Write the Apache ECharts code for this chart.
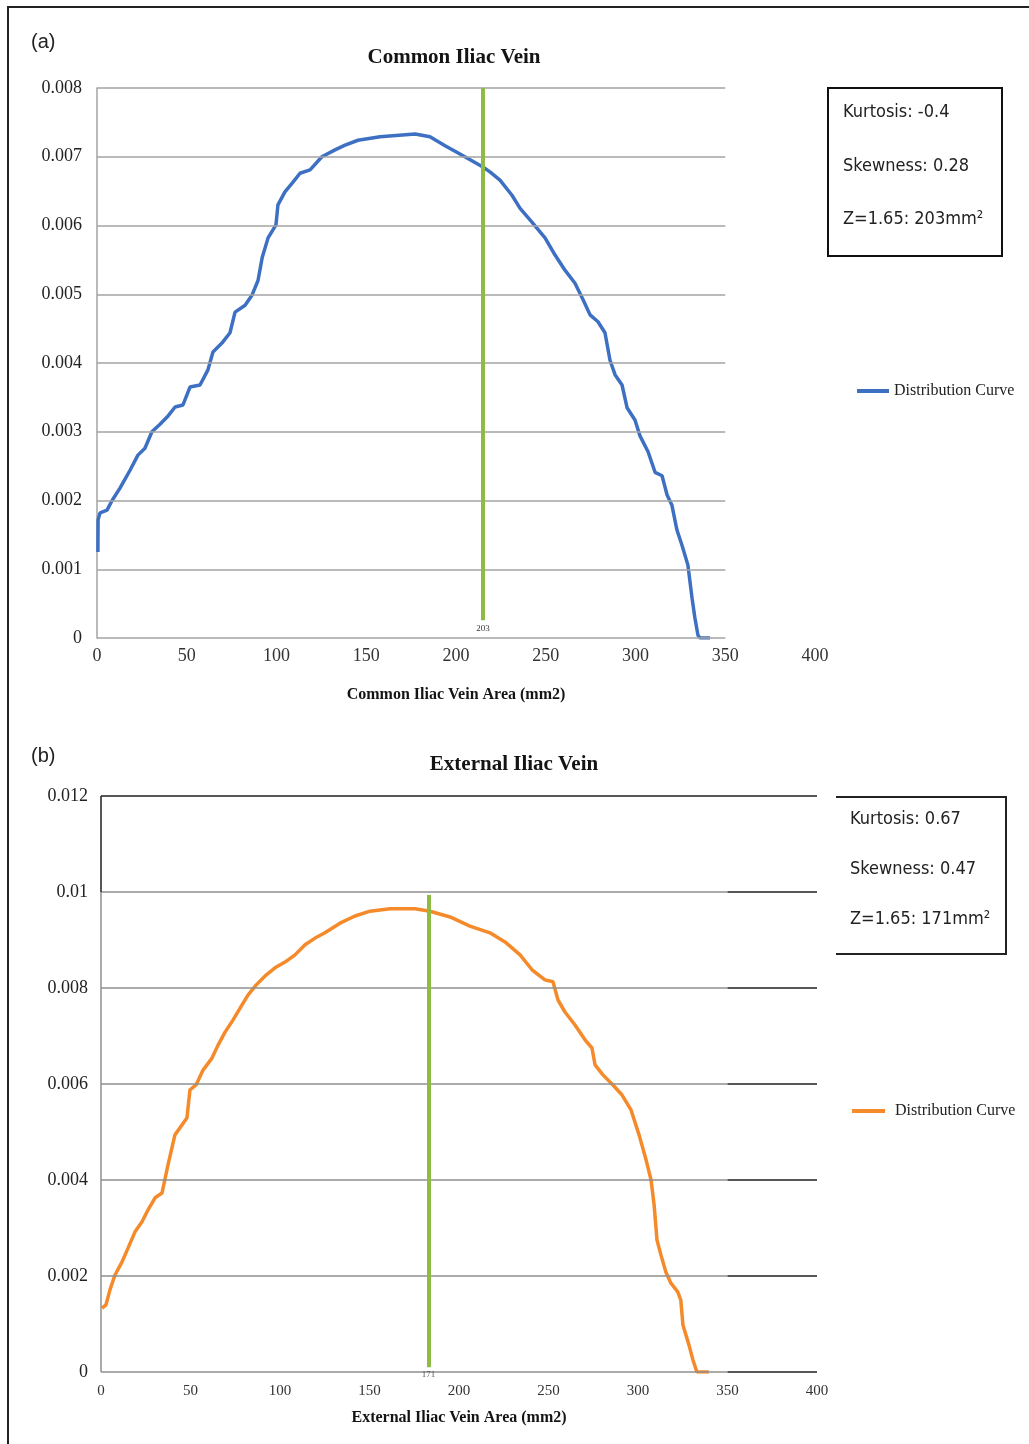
<!DOCTYPE html>
<html>
<head>
<meta charset="utf-8">
<script src="https://cdn.jsdelivr.net/npm/echarts@6/dist/echarts.min.js"></script>
<style>
html,body{margin:0;padding:0;background:#fff;}
#chart{width:1029px;height:1444px;}
</style>
</head>
<body>
<div id="chart"></div>
<script>
// ---------- data ----------
var xTickLabels = ['0','50','100','150','200','250','300','350','400'];
var yTickValsA = [0,0.001,0.002,0.003,0.004,0.005,0.006,0.007,0.008];
var yTickLabelsA = ['0','0.001','0.002','0.003','0.004','0.005','0.006','0.007','0.008'];
var yTickValsB = [0,0.002,0.004,0.006,0.008,0.01,0.012];
var yTickLabelsB = ['0','0.002','0.004','0.006','0.008','0.01','0.012'];

// Common iliac vein distribution curve (area mm2, density)
var commonX = [0.5,0.6,1.7,5.6,8.4,12.8,18.4,22.8,26.7,30.6,35.1,39.6,43.5,47.9,51.8,57.4,61.8,64.6,69.6,74.1,76.9,82.5,86.4,89.7,92.0,95.3,99.7,100.8,104.7,109.2,113.1,118.7,125.3,132.6,138.2,145.4,157.7,177.2,185.5,193.9,202.2,215.0,218.9,224.5,231.2,235.7,242.3,249.6,255.2,260.7,266.3,270.8,274.7,279.1,283.0,285.8,288.6,292.5,295.3,299.7,302.5,307.0,310.9,314.8,317.6,320.3,323.1,325.9,329.2,331.5,333.1,334.8,335.9,341.5];
var commonY = [0.00125,0.00172,0.00182,0.00186,0.00200,0.00218,0.00244,0.00266,0.00276,0.00300,0.00311,0.00323,0.00336,0.00339,0.00365,0.00368,0.00390,0.00416,0.00429,0.00444,0.00474,0.00484,0.00499,0.00520,0.00553,0.00582,0.00601,0.00630,0.00649,0.00663,0.00676,0.00681,0.00700,0.00710,0.00717,0.00724,0.00729,0.00733,0.00729,0.00716,0.00704,0.00685,0.00678,0.00666,0.00644,0.00625,0.00605,0.00582,0.00557,0.00535,0.00516,0.00492,0.00470,0.00460,0.00444,0.00404,0.00383,0.00368,0.00335,0.00317,0.00294,0.00271,0.00241,0.00236,0.00208,0.00193,0.00157,0.00135,0.00106,0.00058,0.00029,0.00004,0,0];

// External iliac vein distribution curve
var externalX = [0.6,2.8,5.0,7.8,11.7,15.1,19.0,22.9,26.3,30.2,34.1,37.4,41.3,45.3,48.0,49.7,53.1,57.0,62.0,65.4,69.3,73.7,77.7,82.1,86.6,92.2,97.2,102.8,108.4,114.0,119.6,125.1,133.5,141.9,150.3,161.5,175.4,183.8,195.0,206.1,217.3,225.7,234.1,240.8,248.0,252.5,255.3,259.2,264.8,270.4,274.3,276.0,280.4,286.0,291.1,296.1,300.6,304.5,307.3,309.0,310.6,312.8,315.6,318.4,322.2,323.9,325.1,328.5,330.7,332.9,339.6];
var externalY = [0.00133,0.00140,0.00171,0.00202,0.00229,0.00258,0.00292,0.00313,0.00338,0.00363,0.00373,0.00431,0.00494,0.00515,0.00529,0.00588,0.00598,0.00629,0.00654,0.00681,0.00708,0.00733,0.00758,0.00785,0.00806,0.00827,0.00842,0.00854,0.00869,0.00890,0.00904,0.00915,0.00935,0.00950,0.00960,0.00965,0.00965,0.00960,0.00948,0.00929,0.00915,0.00896,0.00869,0.00838,0.00817,0.00813,0.00775,0.00750,0.00723,0.00692,0.00675,0.00640,0.00619,0.00598,0.00577,0.00546,0.00494,0.00442,0.00400,0.00348,0.00275,0.00244,0.00208,0.00185,0.00167,0.00150,0.00098,0.00056,0.00025,0,0];

// cut-off marker lines (drawn position on axis, printed label)
var cutA = {x: 215, top: 0.008, bottom: 0.00026, label: '203'};
var cutB = {x: 183, top: 0.00994, bottom: 0.0001, label: '171'};

var statsA = ['Kurtosis: -0.4', 'Skewness: 0.28', 'Z=1.65: 203mm²'];
var statsB = ['Kurtosis: 0.67', 'Skewness: 0.47', 'Z=1.65: 171mm²'];

// ---------- build ----------
function pairs(xs, ys){ return xs.map(function(x,i){ return [x, ys[i]]; }); }
var SERIF = 'Liberation Serif';
var STAT = 'DejaVu Sans Condensed';
var gridGray = '#a3a3a3';
var dark = '#1f1f1f';

var gridLinesA = yTickValsA.map(function(v){ return [{coord:[0,v]},{coord:[350,v]}]; });
var gridLinesB = [];
yTickValsB.forEach(function(v){
  if (v >= 0.012) {
    gridLinesB.push([{coord:[0,v], lineStyle:{color:dark}},{coord:[400,v]}]);
  } else {
    gridLinesB.push([{coord:[0,v], lineStyle:{color:'#8f8f8f'}},{coord:[350,v]}]);
    gridLinesB.push([{coord:[350,v], lineStyle:{color:dark}},{coord:[400,v]}]);
  }
});
gridLinesB.push([{coord:[0,0], lineStyle:{color:'#8f8f8f'}},{coord:[0,0.01]}]);
gridLinesB.push([{coord:[0,0.01], lineStyle:{color:dark}},{coord:[0,0.012]}]);

var chart = echarts.init(document.getElementById('chart'), null, {renderer:'canvas'});
var option = {
  backgroundColor: '#fff',
  animation: false,
  title: [
    {text:'Common Iliac Vein', left:454, top:47, textAlign:'center', padding:0,
     textStyle:{fontFamily:SERIF, fontWeight:'bold', fontSize:21, color:'#141414'}},
    {text:'External Iliac Vein', left:514, top:754, textAlign:'center', padding:0,
     textStyle:{fontFamily:SERIF, fontWeight:'bold', fontSize:21, color:'#141414'}}
  ],
  legend: [
    {data:['Distribution Curve (a)'], left:857, top:383, padding:0, icon:'rect', itemWidth:32, itemHeight:4,
     formatter:function(){return 'Distribution Curve';}, textStyle:{fontFamily:SERIF, fontSize:16, color:'#222'}},
    {data:['Distribution Curve (b)'], left:852, top:1103, padding:0, icon:'rect', itemWidth:33, itemHeight:4,
     formatter:function(){return 'Distribution Curve';}, textStyle:{fontFamily:SERIF, fontSize:16, color:'#222', padding:[0,0,0,5]}}
  ],
  grid: [
    {left:97, top:88, width:718, height:550},
    {left:101, top:796, width:716, height:576}
  ],
  xAxis: [
    {gridIndex:0, type:'value', min:0, max:400, interval:50,
     axisLine:{show:false}, axisTick:{show:false}, splitLine:{show:false},
     axisLabel:{margin:9, fontFamily:SERIF, fontSize:18, color:'#333',
       formatter:function(v,i){return xTickLabels[i];}},
     name:'Common Iliac Vein Area (mm2)', nameLocation:'middle', nameGap:49,
     nameTextStyle:{fontFamily:SERIF, fontWeight:'bold', fontSize:16, color:'#141414'}},
    {gridIndex:1, type:'value', min:0, max:400, interval:50,
     axisLine:{show:false}, axisTick:{show:false}, splitLine:{show:false},
     axisLabel:{margin:12, fontFamily:SERIF, fontSize:15, color:'#333',
       formatter:function(v,i){return xTickLabels[i];}},
     name:'External Iliac Vein Area (mm2)', nameLocation:'middle', nameGap:38,
     nameTextStyle:{fontFamily:SERIF, fontWeight:'bold', fontSize:16, color:'#141414'}}
  ],
  yAxis: [
    {gridIndex:0, type:'value', min:0, max:0.008, interval:0.001,
     axisLine:{show:true, lineStyle:{color:gridGray, width:1.5}}, axisTick:{show:false}, splitLine:{show:false},
     axisLabel:{margin:15, fontFamily:SERIF, fontSize:18, color:'#222',
       formatter:function(v,i){return yTickLabelsA[i];}}},
    {gridIndex:1, type:'value', min:0, max:0.012, interval:0.002,
     axisLine:{show:false}, axisTick:{show:false}, splitLine:{show:false},
     axisLabel:{margin:13, fontFamily:SERIF, fontSize:18, color:'#222',
       formatter:function(v,i){return yTickLabelsB[i];}}}
  ],
  series: [
    {type:'line', xAxisIndex:0, yAxisIndex:0, data:[], silent:true, z:1,
     markLine:{symbol:['none','none'], silent:true, animation:false, label:{show:false},
       lineStyle:{color:gridGray, width:1.5, type:'solid'}, data:gridLinesA}},
    {type:'line', xAxisIndex:1, yAxisIndex:1, data:[], silent:true, z:1,
     markLine:{symbol:['none','none'], silent:true, animation:false, label:{show:false},
       lineStyle:{color:'#8f8f8f', width:1.5, type:'solid'}, data:gridLinesB}},
    {type:'line', xAxisIndex:0, yAxisIndex:0, data:[], silent:true, z:2,
     markLine:{symbol:['none','none'], silent:true, animation:false,
       lineStyle:{color:'#8dbb44', width:4, type:'solid'},
       label:{show:true, position:'end', distance:4, formatter:cutA.label, fontFamily:SERIF, fontSize:9, color:'#333'},
       data:[[{coord:[cutA.x,cutA.top]},{coord:[cutA.x,cutA.bottom]}]]}},
    {type:'line', xAxisIndex:1, yAxisIndex:1, data:[], silent:true, z:2,
     markLine:{symbol:['none','none'], silent:true, animation:false,
       lineStyle:{color:'#8dbb44', width:4, type:'solid'},
       label:{show:true, position:'end', distance:3, formatter:cutB.label, fontFamily:SERIF, fontSize:9, color:'#555'},
       data:[[{coord:[cutB.x,cutB.top]},{coord:[cutB.x,cutB.bottom]}]]}},
    {name:'Distribution Curve (a)', type:'line', xAxisIndex:0, yAxisIndex:0, z:3,
     data:pairs(commonX, commonY), showSymbol:false, symbol:'none',
     itemStyle:{color:'#3d70c2'}, lineStyle:{color:'#3d70c2', width:3.5}},
    {name:'Distribution Curve (b)', type:'line', xAxisIndex:1, yAxisIndex:1, z:3,
     data:pairs(externalX, externalY), showSymbol:false, symbol:'none',
     itemStyle:{color:'#f58a2a'}, lineStyle:{color:'#f58a2a', width:3.5}}
  ],
  graphic: [
    {type:'rect', shape:{x:8, y:7, width:1060, height:1480}, style:{fill:'none', stroke:'#222', lineWidth:2}, silent:true},
    {type:'text', left:31, top:32, style:{text:'(a)', fontFamily:'Liberation Sans', fontSize:20, fill:'#222'}},
    {type:'text', left:31, top:746, style:{text:'(b)', fontFamily:'Liberation Sans', fontSize:20, fill:'#222'}},
    // stats box (a)
    {type:'rect', shape:{x:828, y:88, width:174, height:168}, style:{fill:'#fff', stroke:'#111', lineWidth:2}},
    {type:'text', left:843, top:103, style:{text:statsA[0], fontFamily:STAT, fontSize:18, fill:'#222'}},
    {type:'text', left:843, top:157, style:{text:statsA[1], fontFamily:STAT, fontSize:18, fill:'#222'}},
    {type:'text', left:843, top:210, style:{text:statsA[2], fontFamily:STAT, fontSize:18, fill:'#222'}},
    // stats box (b): open on the left
    {type:'polyline', shape:{points:[[836,797],[1006,797],[1006,954],[836,954]]}, style:{fill:'none', stroke:'#222', lineWidth:2}},
    {type:'text', left:850, top:810, style:{text:statsB[0], fontFamily:STAT, fontSize:18, fill:'#222'}},
    {type:'text', left:850, top:860, style:{text:statsB[1], fontFamily:STAT, fontSize:18, fill:'#222'}},
    {type:'text', left:850, top:910, style:{text:statsB[2], fontFamily:STAT, fontSize:18, fill:'#222'}}
  ]
};
chart.setOption(option);
</script>
</body>
</html>
